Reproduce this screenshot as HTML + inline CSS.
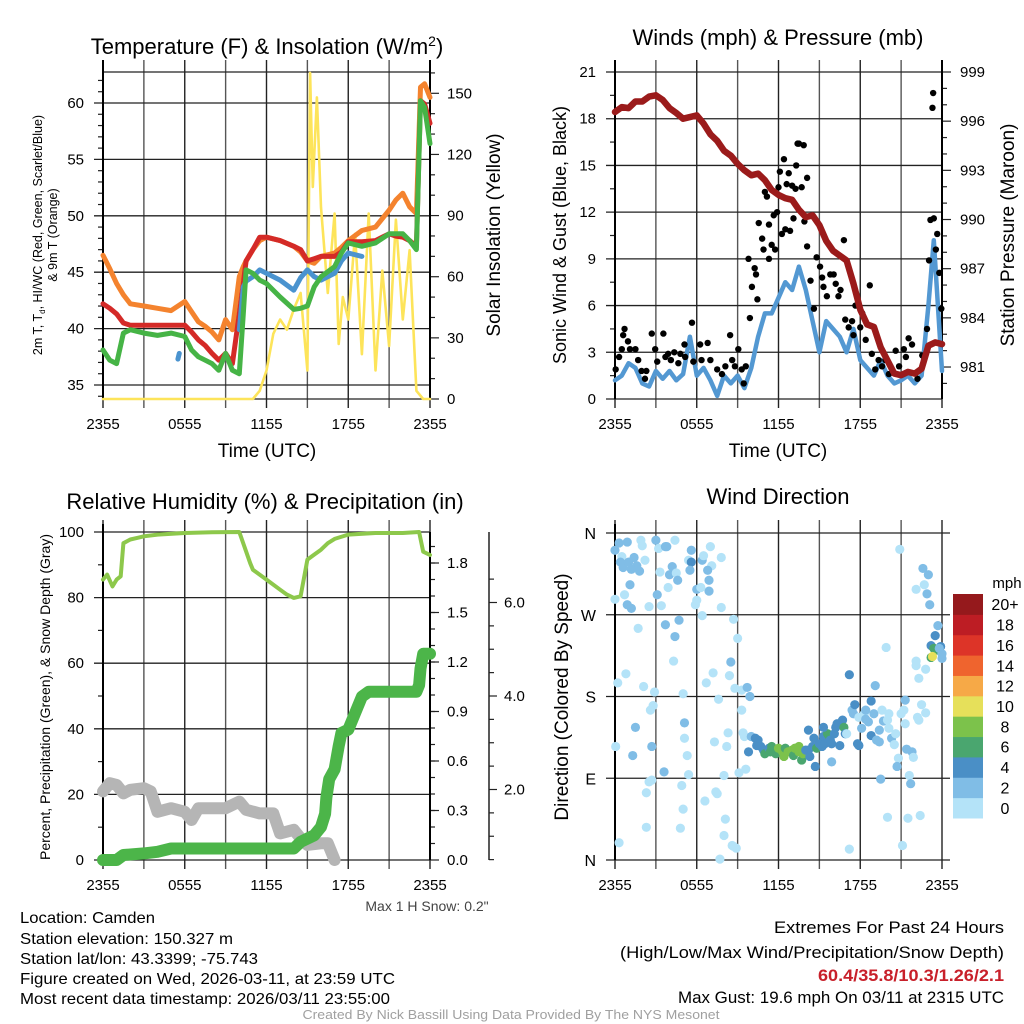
<!DOCTYPE html>
<html><head><meta charset="utf-8"><title>Mesonet Meteogram - Camden</title>
<style>
html,body{margin:0;padding:0;background:#fff;}
svg{display:block;font-family:"Liberation Sans",Arial,sans-serif;}
</style></head>
<body>
<svg id="chart" xmlns="http://www.w3.org/2000/svg" width="1024" height="1024" viewBox="0 0 1024 1024">
<rect x="0" y="0" width="1024" height="1024" fill="#fff"/>
<g id="layer"></g>
<!-- titles -->
<text x="267" y="54" font-size="22" text-anchor="middle">Temperature (F) &amp; Insolation (W/m<tspan dy="-8" font-size="14">2</tspan><tspan dy="8">)</tspan></text>
<text x="778" y="45" font-size="22" text-anchor="middle">Winds (mph) &amp; Pressure (mb)</text>
<text x="265" y="509" font-size="22" text-anchor="middle">Relative Humidity (%) &amp; Precipitation (in)</text>
<text x="778" y="504" font-size="22" text-anchor="middle">Wind Direction</text>
<!-- axis titles -->
<text x="267" y="457" font-size="19" text-anchor="middle">Time (UTC)</text>
<text x="778" y="457" font-size="19" text-anchor="middle">Time (UTC)</text>
<text transform="translate(42,235) rotate(-90)" font-size="12.5" text-anchor="middle">2m T, T<tspan font-size="8" dy="3">d</tspan><tspan dy="-3">, HI/WC (Red, Green, Scarlet/Blue)</tspan></text>
<text transform="translate(57,235) rotate(-90)" font-size="12.5" text-anchor="middle">&amp; 9m T (Orange)</text>
<text transform="translate(500,235) rotate(-90)" font-size="19" text-anchor="middle">Solar Insolation (Yellow)</text>
<text transform="translate(566,235) rotate(-90)" font-size="18" text-anchor="middle">Sonic Wind &amp; Gust (Blue, Black)</text>
<text transform="translate(1014,235) rotate(-90)" font-size="19" text-anchor="middle">Station Pressure (Maroon)</text>
<text transform="translate(50,697) rotate(-90)" font-size="14" text-anchor="middle">Percent, Precipitation (Green), &amp; Snow Depth (Gray)</text>
<text transform="translate(568,697) rotate(-90)" font-size="19" text-anchor="middle">Direction (Colored By Speed)</text>
<text x="427" y="911" font-size="14" fill="#444" text-anchor="middle">Max 1 H Snow: 0.2"</text>
<!-- footer -->
<g font-size="16">
<text x="20" y="923" textLength="135" lengthAdjust="spacingAndGlyphs">Location: Camden</text>
<text x="20" y="944" textLength="213" lengthAdjust="spacingAndGlyphs">Station elevation: 150.327 m</text>
<text x="20" y="964" textLength="238" lengthAdjust="spacingAndGlyphs">Station lat/lon: 43.3399; -75.743</text>
<text x="20" y="984" textLength="375" lengthAdjust="spacingAndGlyphs">Figure created on Wed, 2026-03-11, at 23:59 UTC</text>
<text x="20" y="1004" textLength="370" lengthAdjust="spacingAndGlyphs">Most recent data timestamp: 2026/03/11 23:55:00</text>
</g>
<g font-size="17" text-anchor="end">
<text x="1004" y="933" textLength="230" lengthAdjust="spacingAndGlyphs">Extremes For Past 24 Hours</text>
<text x="1004" y="958" textLength="384" lengthAdjust="spacingAndGlyphs">(High/Low/Max Wind/Precipitation/Snow Depth)</text>
<text x="1004" y="981" font-weight="bold" fill="#c8202a" textLength="186" lengthAdjust="spacingAndGlyphs">60.4/35.8/10.3/1.26/2.1</text>
<text x="1004" y="1003" textLength="326" lengthAdjust="spacingAndGlyphs">Max Gust: 19.6 mph On 03/11 at 2315 UTC</text>
</g>
<text x="511" y="1019" font-size="13" fill="#a0a0a0" text-anchor="middle" textLength="417" lengthAdjust="spacingAndGlyphs">Created By Nick Bassill Using Data Provided By The NYS Mesonet</text>
</svg>
<script>
// ---------- data ----------
const timeTickLabels = ["2355","0555","1155","1755","2355"];
const tempHours   = [0,0.5,1,1.5,2,3,4,5,6,6.5,7,7.5,8,8.5,9,9.5,10,10.3,10.5,11,11.5,12,13,14,14.5,15,15.5,16,17,17.5,18,19,20,21,21.5,22,22.5,23,23.3,23.6,24];
const tempRed     = [42.2,41.8,41.3,40.5,40.3,40.3,40.3,40.3,40.3,39.7,39,38.5,37.8,37.2,37.8,36.9,41.3,44,46,47,48.1,48.1,47.8,47.3,47,46,46.2,46.4,46.4,46.8,47.7,47.7,47.8,48.4,48.2,48.1,47.8,47.3,60.2,59.9,58.2];
const tempOrange  = [46.5,45.3,44,43,42.2,42,41.8,41.6,42.4,41.5,40.6,40.2,39.7,39,40.8,39.9,44.6,45.5,46,47,47.8,48.1,47.8,47.3,46.8,46,45.8,46.4,46.7,47.2,47.8,48.7,49,50.5,51.4,52,50.8,50.2,61.4,61.7,60.5];
const tempGreen   = [38.1,37.2,36.9,39.6,39.9,39.6,39.4,39.6,39.3,38.1,37.5,37.2,36.9,36.3,37.8,36.3,36,41.3,45.2,44.9,44.3,44,42.8,41.7,41.8,42,43.7,44.6,45.5,46.7,47.6,47.3,47.6,48.4,48.4,48.4,47.8,47,60.2,59.6,56.4];
const tempBlue    = [null,null,null,null,null,null,null,null,null,null,null,null,null,null,null,null,39.9,43.7,44.2,44.6,45.2,44.9,44.3,43.4,44.5,45.2,44.6,44.3,44.9,46,46.7,46.4,null,null,null,null,null,null,null,null,null];
const blueIsoHours = [5.5,5.6];
const blueIsoVals  = [37.3,37.8];
const tempTicks   = [35,40,45,50,55,60];
const solarHours  = [0,11,11.5,12,12.5,13,13.5,14,14.5,15,15.2,15.4,15.7,16,16.5,17,17.3,17.6,18,18.5,19,19.5,20,20.5,21,21.5,22,22.5,23,23.5,24];
const solarVals   = [0,0,4,14,32,39,34,44,52,14,160,104,148,94,52,91,27,50,39,81,22,91,14,63,26,88,39,73,4,0,0];
const solarTicks  = [0,30,60,90,120,150];

const windHours = [0,0.5,1,1.5,2,2.5,3,3.5,4,4.5,5,5.5,6,6.5,7,7.5,8,8.5,9,9.5,10,10.5,11,11.5,12,12.5,13,13.5,14,14.5,15,15.5,16,16.5,17,17.5,18,18.5,19,19.5,20,20.5,21,21.5,22,22.5,23,23.4,24];
const windSpeed = [1.2,1.5,2.3,2.0,1.0,0.8,1.8,1.3,1.8,1.2,1.6,4.0,1.5,2.0,1.2,0.2,1.5,1.0,1.5,0.7,2.0,4.0,5.5,5.5,6.5,7.5,7.0,8.5,7.0,5.0,3.0,5.0,4.5,4.0,3.0,4.5,2.5,2.0,1.5,2.5,1.5,1.0,1.2,1.5,1.0,1.5,6.0,10.2,1.8];
const gustHours = [0.05,0.3,0.5,0.6,0.7,0.95,1.1,1.5,1.7,1.95,2.2,2.3,2.7,2.95,3.1,3.55,3.7,3.9,4.1,4.35,4.65,4.8,5.1,5.15,5.65,5.75,6.25,6.35,6.8,7.0,7.5,7.85,8.1,8.45,8.6,8.8,9.05,9.3,9.45,9.6,9.8,9.9,10.05,10.25,10.35,10.45,10.55,10.8,10.9,11.0,11.15,11.3,11.3,11.5,11.65,11.75,11.9,12.0,12.1,12.25,12.4,12.5,12.6,12.75,12.85,13.0,13.1,13.25,13.3,13.4,13.5,13.7,13.85,13.9,14.1,14.1,14.35,14.6,14.8,15.05,15.2,15.3,15.55,15.8,16.05,16.2,16.4,16.55,16.8,16.9,17.15,17.4,17.5,17.65,18.0,18.15,18.4,18.7,18.85,19.1,19.35,19.6,19.85,20.1,20.6,20.85,21.2,21.35,21.55,21.8,22.2,22.55,22.9,23.05,23.15,23.3,23.35,23.4,23.55,23.65,23.8,23.95];
const gustSpeed = [1.9,2.7,3.2,4.1,4.5,3.7,3.2,3.2,2.5,1.8,1.3,1.8,4.2,3.2,2.4,4.2,2.7,2.9,2.5,3.0,2.3,2.9,3.5,2.7,4.9,2.4,3.5,2.5,3.6,2.5,1.9,1.6,2.1,4.1,2.5,2.1,3.2,1.9,1.0,2.1,9.0,5.2,7.2,8.4,8.0,6.4,11.3,10.3,9.6,13.3,13.0,11.2,9.0,9.9,11.8,9.6,12.0,13.6,14.6,10.6,15.4,10.9,13.8,14.5,10.8,13.7,11.6,13.5,15.0,16.4,16.4,13.6,16.3,11.4,14.2,9.8,7.6,5.8,9.1,8.5,7.8,7.2,6.6,8.0,8.0,7.4,6.6,7.0,10.2,5.1,4.6,5.0,4.1,6.0,4.6,5.5,3.8,7.3,2.9,1.9,2.5,2.1,2.5,1.6,3.1,2.1,3.2,2.7,3.9,3.5,1.3,2.8,4.5,8.9,11.5,18.7,19.65,11.6,9.6,10.6,8.1,5.8];
const windTicks = [0,3,6,9,12,15,18,21];
const presHours = [0,0.5,1,1.5,2,2.5,3,3.5,4,4.5,5,5.5,6,6.5,7,7.5,8,8.5,9,9.5,10,10.5,11,11.5,12,12.5,13,13.5,14,14.5,15,15.5,16,16.5,17,17.5,18,18.5,19,19.5,20,20.5,21,21.5,22,22.5,23,23.5,24];
const presVals  = [996.56,996.86,996.8,997.2,997.2,997.5,997.58,997.3,996.8,996.5,996.15,996.25,996.35,995.85,995.2,994.8,994.2,993.9,993.4,993.0,992.7,992.8,992.4,991.8,991.5,991.3,991.2,990.6,990.15,990.25,989.65,988.7,988.1,987.8,987.5,986.1,984.5,983.6,983.45,982.2,981.4,980.6,980.5,980.7,980.6,980.9,982.3,982.5,982.4];
const presTicks = [981,984,987,990,993,996,999];

const rhHours = [0,0.3,0.7,1,1.3,1.5,2,2.5,3,4,6,8,10,10.8,11,12,13,13.5,14,14.5,15,15.5,16,16.5,17,18,20,22,23.2,23.5,24];
const rhVals  = [85.5,87,83.4,85.5,86.5,96.6,97.7,98.2,98.7,99.2,99.7,99.9,100,90.5,88.5,85.5,82.4,80.9,79.9,80.4,91.6,93.1,94.6,96.6,97.9,99.2,99.7,99.7,100,94,93];
const precipHours = [0,1,1.5,3,4,5,14,14.5,15.5,16,16.3,16.4,16.6,17,17.3,17.5,18,18.5,19,19.5,20,23,23.2,23.3,23.5,24];
const precipVals  = [0,0,0.03,0.04,0.05,0.07,0.07,0.11,0.15,0.2,0.28,0.38,0.49,0.55,0.69,0.77,0.79,0.89,0.99,1.02,1.02,1.02,1.06,1.16,1.25,1.25];
const snowHours = [0,0.5,1,1.5,2,3,3.5,4,5,6,6.5,7,9,10,10.5,11.5,12.5,13,14,14.5,15,16,16.5,17];
const snowVals  = [20.9,23.4,22.9,20.3,21.4,21.9,20.9,14.7,15.8,14.7,12.2,15.8,15.8,17.8,15.3,14.2,14.2,8.1,9.2,6.6,4.6,5.1,5.1,0];
const pctTicks = [0,20,40,60,80,100];
const precipTicks = [0.0,0.3,0.6,0.9,1.2,1.5,1.8];
const snowAxisTicks = [2.0,4.0,6.0];

const dirTickLabels = ["N","E","S","W","N"];
const dirTickDegs = [0,90,180,270,360];
// [hour, direction (deg), speed (mph)]
const windDirObs = [
[0,341,3],[0.3,349,3],[0.9,350,3],[1.9,352,1],[2.0,346,1],[3.0,352,3],[3.2,343,1],[3.7,345,3],[3.8,345,3],[4.4,352,1],
[0.5,334,1],[0.4,328,3],[0.6,322,3],[1.0,328,3],[1.4,333,3],[1.6,324,3],[1.2,320,3],[1.8,318,3],[2.2,330,1],[3.3,317,1],
[4.0,314,3],[4.2,323,3],[4.5,316,1],[4.6,308,3],[5.6,341,3],[5.4,330,1],[5.6,328,5],[5.5,319,3],[6.4,330,3],[6.5,335,1],
[7.0,345,1],[7.1,324,1],[7.8,333,1],[6.8,319,3],[6.9,308,3],[6.9,296,3],[6.0,298,3],[6.3,300,1],[3.9,300,1],[3.1,292,3],
[1.1,303,3],[0.7,292,1],[0,287,1],[0.9,281,3],[1.2,277,3],[2.5,279,1],[3.4,280,1],[6.0,286,1],[5.9,281,1],[7.8,278,1],
[6.4,269,1],[8.7,265,1],[1.7,255,1],[3.7,259,3],[4.7,264,3],[4.4,246,3],[9.0,244,1],[8.5,218,3],[4.3,219,1],[0.8,205,1],
[0.2,195,1],[2.1,191,1],[2.9,185,1],[5.0,183,1],[7.2,206,1],[6.7,195,1],[8.4,203,1],[8.8,189,1],[9.3,187,1],[9.7,190,3],
[9.9,180,3],[7.6,177,1],[2.8,170,1],[2.6,165,1],[9.3,165,1],[1.5,146,3],[5.1,151,3],[8.3,140,1],[9.4,140,1],[9.5,136,1],
[5.1,134,1],[7.3,130,1],[8.2,125,1],[0.05,125,1],[2.7,125,3],[1.3,115,3],[5.3,115,1],[3.6,97,3],[5.4,94,1],[8.0,93,1],
[9.1,96,1],[9.6,100,1],[2.5,86,1],[2.7,88,1],[2.3,74,1],[4.9,82,1],[7.4,75,1],[7.5,73,1],[6.6,65,1],[5.0,56,1],
[2.3,36,1],[4.8,35,1],[8.1,45,1],[8.0,27,1],[0.3,19,1],[8.6,16,1],[8.7,15,1],[8.9,13,1],[7.7,1,1],
[10.0,136,3],[10.3,134,5],[10.5,132,5],[10.4,126,5],[10.7,125,5],[9.8,119,5],[10.9,121,5],[11.0,117,7],[11.3,123,5],[11.4,119,7],
[11.5,125,7],[11.8,117,7],[12.0,123,9],[12.3,119,9],[12.4,114,9],[12.5,123,7],[12.7,119,9],[13.0,121,9],[13.1,115,7],[13.2,123,9],
[13.5,125,9],[13.5,119,9],[13.7,110,7],[13.8,117,9],[14.0,121,5],[14.2,121,5],[14.3,114,5],[14.5,125,5],[14.6,134,5],[14.7,103,5],
[14.8,123,7],[15.0,128,5],[15.2,125,5],[15.3,136,5],[15.4,128,5],[15.6,139,7],[15.7,137,7],[15.8,132,5],[15.9,128,5],[16.1,139,5],
[16.2,146,5],[16.3,150,5],[16.5,126,5],[16.7,154,5],[16.8,146,7],[16.9,139,5],[14.2,143,5],[15.3,146,5],[15.9,108,3],[17.0,139,1],
[17.2,204,5],[17.4,165,3],[17.5,161,3],[17.6,171,5],[17.8,128,5],[17.9,126,5],[17.9,157,1],[18.1,145,3],[18.3,161,1],[18.4,165,3],
[18.4,155,3],[18.6,152,3],[18.8,137,5],[18.8,175,5],[19.0,161,3],[19.1,192,3],[19.2,132,3],[19.4,143,3],[19.4,130,3],[19.6,165,1],
[19.7,153,3],[19.9,234,1],[20.0,154,1],[20.1,161,1],[20.1,145,1],[20.3,134,3],[20.6,139,1],[20.5,127,1],[20.8,112,1],[20.7,103,3],
[21.0,161,1],[21.2,165,1],[21.3,176,3],[21.3,150,1],[21.4,122,3],[21.6,93,1],[21.7,84,3],[21.8,119,3],[21.9,113,1],[22.1,219,1],
[22.1,214,1],[22.3,200,1],[22.5,171,1],[22.8,162,1],[22.2,157,1],[22.3,154,1],[22.8,210,1],[19.5,89,3],[20.0,47,1],[21.5,46,1],
[22.4,49,1],[21.1,16,1],[17.2,12,1],[20.9,342,1],[22.1,298,1],[22.7,303,1],[22.6,321,3],[23.0,314,3],[22.9,293,3],[23.1,281,3],
[23.7,258,3],[23.5,247,5],[23.2,236,5],[23.4,233,7],[23.7,231,7],[23.9,235,5],[23.2,223,7],[23.3,224,10.5],[23.8,233,3],[24.0,222,3],
[24.0,227,3]
];
const speedBinLabels = ["0","2","4","6","8","10","12","14","16","18","20+"];
const speedBinColors = ["#b4e3f8","#80bde6","#4a8fc6","#4aa66f","#7cc24b","#e6e05a","#f6a947","#ef642e","#dd3428","#bd1d24","#95191c"];

// ---------- drawing ----------
const NS="http://www.w3.org/2000/svg";
const layer=document.getElementById('layer');
function mk(tag,attrs,parent){const e=document.createElementNS(NS,tag);for(const k in attrs)e.setAttribute(k,attrs[k]);(parent||layer).appendChild(e);return e;}
const PW=327, TOP=72, BOT=399, TOP2=532, BOT2=860;
const xA=h=>103+h*PW/24, xB=h=>615+h*PW/24;
const yTemp=v=>385-(v-35)*11.28;
const ySolar=v=>399-v*2.038;
const yWind=v=>399-v*PW/21;
const yPres=p=>72+(999-p)*16.39;
const yPct=v=>860-v*3.28;
const yPrecip=v=>860-v*165;
const ySnowAx=v=>883-v*46.75;
const yDir=d=>860-d*PW/360;

function grid(x0,top,bot,name){
  const g=mk('g',{});
  
  
  for(let h=0;h<=24;h+=3){
    const x=x0+h*PW/24;
    const l=mk('line',{x1:x,x2:x,y1:top-12,y2:bot+9,stroke:(h%6===0)?'#222':'#555','stroke-width':1.4},g);
    
    
  }
}
function hline(y,x0,x1,name){const l=mk('line',{x1:x0,x2:x1,y1:y,y2:y,stroke:'#222','stroke-width':1.3});
  
  }
function txt(x,y,s,anchor,size,name,fill){const t=mk('text',{x:x,y:y,'font-size':size||15,'text-anchor':anchor||'middle',fill:fill||'#000'});t.textContent=s;
  
  return t;}
function path(hs,vs,fx,fy,attrs,name){
  let d='',pen=false;
  for(let i=0;i<hs.length;i++){
    if(vs[i]===null||vs[i]===undefined){pen=false;continue;}
    d+=(pen?'L':'M')+fx(hs[i]).toFixed(1)+','+fy(vs[i]).toFixed(1);pen=true;
  }
  const p=mk('path',Object.assign({d:d,fill:'none','stroke-linejoin':'round','stroke-linecap':'round'},attrs));
  
  
  return p;
}
function timeLabels(x0,y,name){
  timeTickLabels.forEach((s,i)=>txt(x0+i*6*PW/24,y,s,'middle',15,name+'-x-tick-label'));
}
function vtick(x,y,len){mk('line',{x1:x,x2:x+len,y1:y,y2:y,stroke:'#222','stroke-width':1.2});}

// ===== Panel 1: temperature =====
grid(103,TOP,BOT,'temperature');
tempTicks.forEach(v=>{hline(yTemp(v),94,430,'temperature-hgrid');txt(84,yTemp(v)+5,String(v),'end',15,'temperature-y-tick-label');});
for(let v=34;v<=62;v++){if(v%5)vtick(103,yTemp(v),-5);}
hline(TOP,103,430,'temperature-top-border');
solarTicks.forEach(v=>{vtick(430,ySolar(v),9);txt(447,ySolar(v)+5,String(v),'start',15,'solar-y-tick-label');});
for(let v=10;v<=160;v+=10){if(v%30)vtick(430,ySolar(v),5);}
mk('line',{x1:103,x2:103,y1:TOP-12,y2:BOT,stroke:'#000','stroke-width':2});
mk('line',{x1:430,x2:430,y1:TOP-12,y2:BOT,stroke:'#000','stroke-width':2});
hline(BOT,103,430,'temperature-x-axis');
path(solarHours,solarVals,xA,ySolar,{stroke:'#fde45a','stroke-width':2.6},'solar-line');
path(tempHours,tempOrange,xA,yTemp,{stroke:'#f4832e','stroke-width':5},'temp-9m-line');
path(tempHours,tempRed,xA,yTemp,{stroke:'#d42a27','stroke-width':5},'temp-2m-line');
path(tempHours,tempBlue,xA,yTemp,{stroke:'#4a93cf','stroke-width':5},'windchill-line');
path(blueIsoHours,blueIsoVals,xA,yTemp,{stroke:'#4a93cf','stroke-width':5},'windchill-fragment');
path(tempHours,tempGreen,xA,yTemp,{stroke:'#46b446','stroke-width':5},'dewpoint-line');
timeLabels(103,429,'temperature');

// ===== Panel 2: wind =====
grid(615,TOP,BOT,'wind');
windTicks.forEach(v=>{hline(yWind(v),606,942,'wind-hgrid');txt(596,yWind(v)+5,String(v),'end',15,'wind-y-tick-label');});
for(let v=1.5;v<21;v+=3){vtick(615,yWind(v),-5);}
presTicks.forEach(v=>{vtick(942,yPres(v),9);txt(960,yPres(v)+5,String(v),'start',15,'pressure-y-tick-label');});
for(let p=980;p<=998;p++){if((p-981)%3)vtick(942,yPres(p),5);}
mk('line',{x1:615,x2:615,y1:TOP-12,y2:BOT,stroke:'#000','stroke-width':2});
mk('line',{x1:942,x2:942,y1:TOP-12,y2:BOT,stroke:'#000','stroke-width':2});
path(windHours,windSpeed,xB,yWind,{stroke:'#5398d2','stroke-width':4.5},'sonic-wind-line');
gustHours.forEach((h,i)=>{const c=mk('circle',{cx:xB(h),cy:yWind(gustSpeed[i]),r:3.2,fill:'#000'});
  
  });
path(presHours,presVals,xB,yPres,{stroke:'#9b1b1b','stroke-width':6.5},'pressure-line');
timeLabels(615,429,'wind');

// ===== Panel 3: humidity / precip =====
grid(103,TOP2,BOT2,'humidity');
pctTicks.forEach(v=>{hline(yPct(v),94,430,'humidity-hgrid');txt(84,yPct(v)+5,String(v),'end',15,'humidity-y-tick-label');});
for(let v=10;v<100;v+=20){vtick(103,yPct(v),-5);}
precipTicks.forEach(v=>{vtick(430,yPrecip(v),9);txt(447,yPrecip(v)+5,v.toFixed(1),'start',15,'precip-y-tick-label');});
for(let v=0.1;v<1.95;v+=0.1){vtick(430,yPrecip(v),5);}
mk('line',{x1:103,x2:103,y1:TOP2-8,y2:BOT2,stroke:'#000','stroke-width':2});
mk('line',{x1:430,x2:430,y1:TOP2,y2:BOT2,stroke:'#000','stroke-width':2});
mk('line',{x1:489,x2:489,y1:TOP2,y2:BOT2,stroke:'#222','stroke-width':1.5});
snowAxisTicks.forEach(v=>{vtick(489,ySnowAx(v),8);txt(504,ySnowAx(v)+5,v.toFixed(1),'start',15,'snow-y-tick-label');});
for(let v=0.5;v<7;v+=0.5){const y=ySnowAx(v);if(y>TOP2&&y<BOT2&&v%2)vtick(489,y,5);}
path(snowHours,snowVals,xA,yPct,{stroke:'#b5b5b5','stroke-width':12},'snow-depth-line');
path(precipHours,precipVals,xA,yPrecip,{stroke:'#4cb549','stroke-width':12},'precipitation-line');
path(rhHours,rhVals,xA,yPct,{stroke:'#8dc84b','stroke-width':4},'humidity-line');
timeLabels(103,890,'humidity');

// ===== Panel 4: wind direction =====
grid(615,TOP2,BOT2,'direction');
dirTickDegs.forEach((d,i)=>{hline(yDir(d),606,950,'direction-hgrid');txt(596,yDir(d)+6,dirTickLabels[i],'end',16,'direction-y-tick-label');});
mk('line',{x1:615,x2:615,y1:TOP2-8,y2:BOT2,stroke:'#000','stroke-width':2});
function binColor(s){let k=Math.floor(s/2);if(k<0)k=0;if(k>10)k=10;return speedBinColors[k];}
windDirObs.forEach(o=>{const c=mk('circle',{cx:xB(o[0]),cy:yDir(o[1]),r:4.6,fill:binColor(o[2])});
  
  });
timeLabels(615,890,'direction');
// colorbar
const cb=mk('g',{});


const binH=(818-594)/11;
speedBinLabels.forEach((s,i)=>{
  const y=818-(i+1)*binH;
  const r=mk('rect',{x:953,y:y,width:30,height:binH+0.5,fill:speedBinColors[i]},cb);
  
  
  const t=mk('text',{x:1005,y:y+binH/2+6,'font-size':16,'text-anchor':'middle'},cb);t.textContent=s;
  
  
});
const mph=mk('text',{x:1007,y:588,'font-size':15,'text-anchor':'middle'},cb);mph.textContent='mph';


</script>
</body></html>
